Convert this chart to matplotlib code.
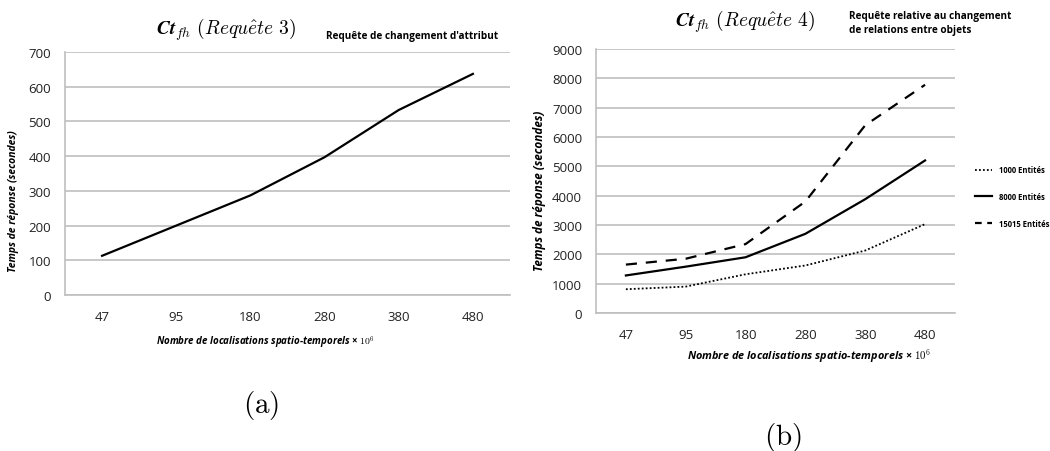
import numpy as np
import matplotlib.pyplot as plt
from matplotlib.lines import Line2D

plt.rcParams['mathtext.fontset'] = 'cm'
plt.rcParams['font.family'] = ['Open Sans', 'DejaVu Sans']

# data
categories = ["47", "95", "180", "280", "380", "480"]
req3 = [113, 200, 287, 397, 533, 637]
req4_1000 = [810, 900, 1320, 1620, 2130, 3030]
req4_8000 = [1280, 1580, 1900, 2700, 3880, 5200]
req4_15015 = [1650, 1850, 2350, 3800, 6400, 7780]

grid_color = "#bfbfbf"
xlabel = r"Nombre de localisations spatio-temporels × $\mathbf{10}^{\mathbf{6}}$"
ylabel = "Temps de réponse (secondes)"


def style_axes(ax, ymax, step):
    x = np.arange(len(categories))
    ax.set_xlim(-0.5, len(categories) - 0.5)
    ax.set_ylim(0, ymax)
    ax.set_xticks(x)
    ax.set_xticklabels(categories)
    ax.set_yticks(np.arange(0, ymax + 1, step))
    ax.yaxis.grid(True, color=grid_color, linewidth=1.2)
    ax.set_axisbelow(True)
    for s in ["top", "right"]:
        ax.spines[s].set_visible(False)
    for s in ["left", "bottom"]:
        ax.spines[s].set_color(grid_color)
        ax.spines[s].set_linewidth(1.2)
    ax.tick_params(length=0, labelsize=9.5, colors="#222222", pad=10)
    ax.tick_params(axis="x", pad=11)


fig = plt.figure(figsize=(10.5, 4.52), dpi=100)
x = np.arange(len(categories))

# (a)
ax1 = fig.add_axes([0.0619, 0.3451, 0.4238, 0.5376])
ax1.plot(x, req3, color="black", linewidth=1.6)
style_axes(ax1, 700, 100)
ax1.set_ylabel(ylabel, fontsize=7.5, fontweight="bold", fontstyle="italic")
ax1.yaxis.set_label_coords(-0.103, 0.39)
fig.text(0.253, 0.241, xlabel, fontsize=7, fontweight="bold", fontstyle="italic", ha="center", va="center")
fig.text(0.215, 0.935, r"$\mathbfit{Ct}_{fh}\ (Requ\hat{e}te\ 3)$", fontsize=14, ha="center", va="center")
fig.text(0.310, 0.920, "Requête de changement d'attribut", fontsize=7.2, fontweight="bold", ha="left", va="center")
fig.text(0.249, 0.102, r"$\mathrm{(a)}$", fontsize=21, ha="center", va="center")

# (b)
ax2 = fig.add_axes([0.5676, 0.3053, 0.3419, 0.5841])
ax2.plot(x, req4_1000, color="black", linewidth=1.3, linestyle=(0, (1, 1.2)))
ax2.plot(x, req4_8000, color="black", linewidth=1.6)
ax2.plot(x, req4_15015, color="black", linewidth=1.6, linestyle=(0, (5, 4)))
style_axes(ax2, 9000, 1000)
ax2.set_ylabel(ylabel, fontsize=8.5, fontweight="bold", fontstyle="italic")
ax2.yaxis.set_label_coords(-0.139, 0.466)
fig.text(0.77, 0.212, xlabel, fontsize=7.8, fontweight="bold", fontstyle="italic", ha="center", va="center")
fig.text(0.71, 0.952, r"$\mathbfit{Ct}_{fh}\ (Requ\hat{e}te\ 4)$", fontsize=14, ha="center", va="center")
fig.text(0.809, 0.948, "Requête relative au changement\nde relations entre objets", fontsize=7.2,
         fontweight="bold", ha="left", va="center", linespacing=1.35)
fig.text(0.746, 0.033, r"$\mathrm{(b)}$", fontsize=21, ha="center", va="center")

handles = [
    Line2D([], [], color="black", linewidth=1.3, linestyle=(0, (1, 1.2))),
    Line2D([], [], color="black", linewidth=1.6),
    Line2D([], [], color="black", linewidth=1.6, linestyle=(0, (3, 2.5))),
]
labels = ["1000 Entités", "8000 Entités", "15015 Entités"]
fig.legend(handles, labels, loc="center left", bbox_to_anchor=(0.922, 0.563), frameon=False,
           handlelength=2.2, handletextpad=0.9, labelspacing=2.3, prop={"weight": "bold", "size": 5.5})

fig.savefig("out.png", dpi=100)
